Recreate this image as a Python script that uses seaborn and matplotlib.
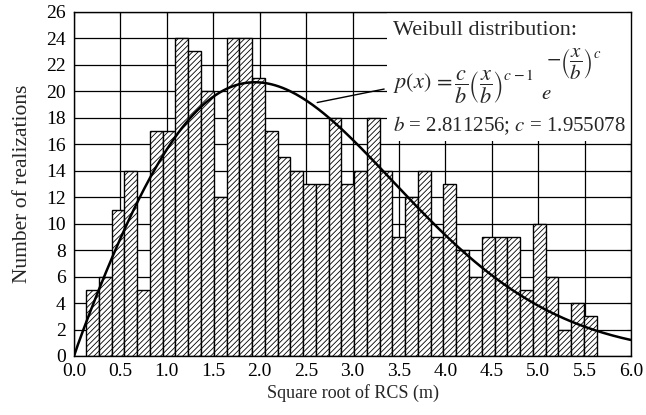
import numpy as np
import pandas as pd
import seaborn as sns
from matplotlib import pyplot as plt
from matplotlib.patches import Rectangle

# гистограмма: 40 интервалов по 0.1375, начиная с 0.13
bin_left = 0.13
bin_width = 0.1375
counts = [5, 6, 11, 14, 5, 17, 17, 24, 23, 20, 12, 24, 24,
          21, 17, 15, 14, 13, 13, 18, 13, 14, 18, 14, 9, 12, 14, 9,
          13, 8, 6, 9, 9, 9, 5, 10, 6, 2, 4, 3]

# параметры распределения Вейбулла
b_par = 2.811256
c_par = 1.955078

x_ticks = [0.0, 0.5, 1.0, 1.5, 2.0, 2.5, 3.0, 3.5, 4.0, 4.5, 5.0, 5.5, 6.0]
y_ticks = list(range(0, 27, 2))


def analysis():
    sns.set_style('white')
    plt.rcParams['font.family'] = ['Liberation Serif', 'DejaVu Serif']
    plt.rcParams['mathtext.fontset'] = 'stix'
    plt.rcParams['hatch.linewidth'] = 0.6

    edges = bin_left + bin_width * np.arange(len(counts) + 1)
    centers = (edges[:-1] + edges[1:]) / 2
    df = pd.DataFrame({'x': centers, 'n': counts})

    # кривая Вейбулла, масштабированная на число реализаций
    total = sum(counts)
    xs = np.linspace(0, 6, 300)
    pdf = (c_par / b_par) * (xs / b_par) ** (c_par - 1) * np.exp(-(xs / b_par) ** c_par)
    curve = pd.DataFrame({'x': xs, 'y': total * bin_width * pdf})

    fig = plt.figure(figsize=(6.46, 4.15), dpi=100)
    axes = fig.add_axes([0.1146, 0.1422, 0.8622, 0.8296])

    axes.set_axisbelow(True)
    axes.grid(True, color='black', linewidth=0.9)

    sns.histplot(
        data=df, x='x', weights='n', bins=[float(e) for e in edges],
        color='white', edgecolor='black', linewidth=1.0,
        alpha=1, hatch='//////', ax=axes)

    # белая подложка под формулой
    axes.add_patch(Rectangle((3.37, 16.2), 2.63, 9.8, facecolor='white',
                             edgecolor='none', zorder=1.5))

    sns.lineplot(data=curve, x='x', y='y', color='black', linewidth=1.8,
                 ax=axes, zorder=3)

    axes.annotate('', xy=(2.59, 19.1), xytext=(3.37, 20.2),
                  arrowprops=dict(arrowstyle='-', lw=1.0, color='black'),
                  zorder=3)

    axes.text(3.44, 24.6, 'Weibull distribution:', fontsize=16,
              va='center', ha='left', zorder=4)
    axes.text(3.44, 20.3,
              r'$p(x)\,=\dfrac{c}{b}\left(\dfrac{x}{b}\right)^{c-1}$',
              fontsize=16, va='center', ha='left', zorder=4)
    axes.text(5.03, 19.75, r'$e$', fontsize=15, va='center', ha='left', zorder=4)
    axes.text(5.08, 22.1, r'$-\left(\dfrac{x}{b}\right)^{c}$',
              fontsize=15, va='center', ha='left', zorder=4)
    axes.text(3.44, 17.37,
              r'$b$ = %.6f; $c$ = %.6f' % (b_par, c_par),
              fontsize=15, va='center', ha='left', zorder=4)

    axes.set_xlim(0, 6)
    axes.set_ylim(0, 26)
    axes.set_xticks(x_ticks)
    axes.set_xticklabels(['%.1f' % v for v in x_ticks])
    axes.set_yticks(y_ticks)
    axes.tick_params(direction='in', top=True, right=True, length=3,
                     labelsize=14, colors='black')
    axes.tick_params(axis='x', pad=5)
    axes.tick_params(axis='y', pad=6)
    for sp in axes.spines.values():
        sp.set_color('black')
        sp.set_linewidth(1.0)

    axes.set_xlabel('Square root of RCS (m)', fontsize=13, labelpad=3)
    axes.set_ylabel('Number of realizations', fontsize=15.5, labelpad=10)

    fig.savefig('out.png', dpi=100)


def main():
    analysis()


if __name__ == '__main__':
    main()
